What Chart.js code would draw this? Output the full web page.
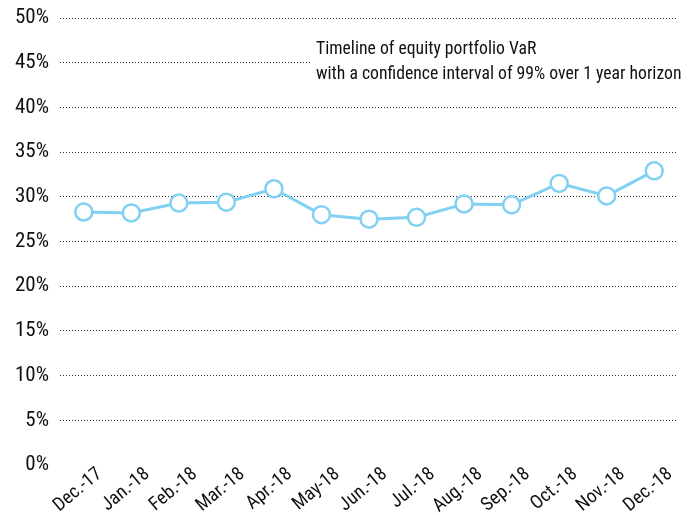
<!DOCTYPE html>
<html>
<head>
<meta charset="utf-8">
<script src="https://cdn.jsdelivr.net/npm/chart.js@4"></script>
<style>
    html, body { margin: 0; padding: 0; background: #ffffff; }
    #wrap { width: 689px; height: 515px; position: relative; }
</style>
</head>
<body>
<div id="wrap"><canvas id="chart"></canvas></div>
<script>
// Chart data
const months = ['Dec.-17', 'Jan.-18', 'Feb.-18', 'Mar.-18', 'Apr.-18', 'May-18', 'Jun.-18',
    'Jul.-18', 'Aug.-18', 'Sep.-18', 'Oct.-18', 'Nov.-18', 'Dec.-18'];
const varValues = [28.3, 28.2, 29.3, 29.4, 30.9, 28.0, 27.5, 27.7, 29.2, 29.1, 31.5, 30.1, 32.9];
const titleLines = ['Timeline of equity portfolio VaR', 'with a confidence interval of 99% over 1 year horizon'];

const FONT = '"Liberation Sans Narrow", "Roboto Condensed", "Arial Narrow", Roboto, sans-serif';
const LINE_COLOR = '#82d0f2';

// Title box drawn inside the plot, over the grid
const titlePlugin = {
    id: 'innerTitle',
    afterDraw(chart) {
        const ctx = chart.ctx;
        ctx.save();
        ctx.font = '17.7px ' + FONT;
        ctx.textBaseline = 'middle';
        ctx.textAlign = 'left';
        const x = 316;
        const w = Math.max(...titleLines.map(t => ctx.measureText(t).width));
        ctx.fillStyle = '#ffffff';
        ctx.fillRect(x - 6, 38, w + 12, 48);
        ctx.fillStyle = '#111111';
        titleLines.forEach((t, i) => ctx.fillText(t, x, 50 + i * 25));
        ctx.restore();
    }
};

new Chart(document.getElementById('chart'), {
    type: 'line',
    data: {
        labels: months,
        datasets: [{
            data: varValues,
            borderColor: LINE_COLOR,
            borderWidth: 3,
            pointRadius: 8.5,
            pointBorderWidth: 2.5,
            pointBackgroundColor: '#ffffff',
            pointBorderColor: LINE_COLOR,
            tension: 0
        }]
    },
    options: {
        responsive: true,
        maintainAspectRatio: false,
        animation: false,
        layout: { padding: { top: 18, right: 7, left: 0, bottom: 0 } },
        plugins: {
            legend: { display: false },
            tooltip: { enabled: false }
        },
        scales: {
            x: {
                offset: true,
                grid: { display: false, drawTicks: false },
                border: { display: false },
                ticks: {
                    color: '#111111',
                    font: { family: FONT, size: 19 },
                    maxRotation: 40,
                    minRotation: 40,
                    padding: -2,
                    labelOffset: 16
                },
                afterFit(scale) { scale.height = 50; }
            },
            y: {
                min: 0,
                max: 50,
                border: { display: false, dash: [1, 2] },
                grid: {
                    color: ctx => ctx.tick.value === 0 ? 'rgba(0,0,0,0)' : '#333333',
                    lineWidth: 1,
                    drawTicks: false
                },
                ticks: {
                    stepSize: 5,
                    color: '#111111',
                    padding: 11,
                    font: { family: FONT, size: 21 },
                    callback: v => v + '%'
                },
                afterFit(scale) {
                    scale.width = 60;
                    scale.paddingTop = 0;
                    scale.paddingBottom = 0;
                }
            }
        }
    },
    plugins: [titlePlugin]
});
</script>
</body>
</html>
